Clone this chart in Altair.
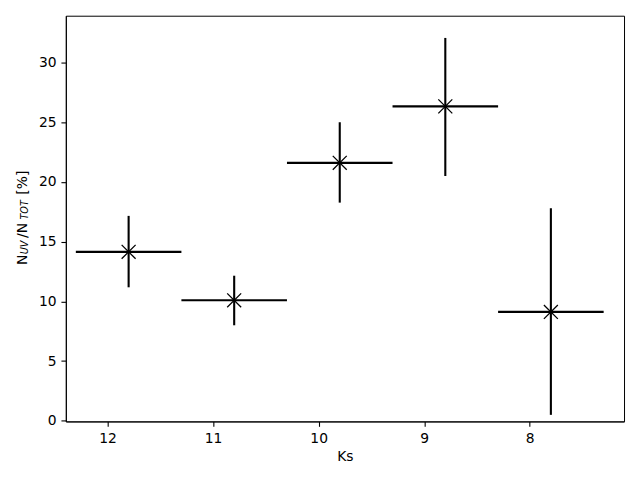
import altair as alt
import pandas as pd

# ---- data ----
ks = [11.8, 10.8, 9.8, 8.8, 7.8]
frac = [14.15, 10.09, 21.6, 26.33, 9.12]
frac_lo = [11.18, 8.0, 18.27, 20.5, 0.5]
frac_hi = [17.16, 12.15, 25.0, 32.06, 17.8]
ks_err = [0.5, 0.5, 0.5, 0.5, 0.5]
x_ticks = [8, 9, 10, 11, 12]
y_ticks = [0, 5, 10, 15, 20, 25, 30]

df = pd.DataFrame({
    "ks": ks,
    "frac": frac,
    "frac_lo": frac_lo,
    "frac_hi": frac_hi,
    "ks_lo": [k - e for k, e in zip(ks, ks_err)],
    "ks_hi": [k + e for k, e in zip(ks, ks_err)],
})

FONT = "DejaVu Sans"
FS = 13.9

xscale = alt.Scale(domain=[7.107, 12.395], reverse=True, nice=False, zero=False)
yscale = alt.Scale(domain=[-0.05, 33.92], nice=False, zero=False)

xaxis = alt.Axis(values=x_ticks, title="Ks", grid=False, format="d",
                 tickSize=4.9, tickWidth=1.1, tickColor="black",
                 domainColor="black", domainWidth=1,
                 labelFont=FONT, labelFontSize=FS, labelColor="black", labelPadding=4.9,
                 titleFont=FONT, titleFontSize=FS, titleFontWeight="normal",
                 titleColor="black", titlePadding=5)
yaxis = alt.Axis(values=y_ticks, title=None, grid=False, format="d",
                 tickSize=4.9, tickWidth=1.1, tickColor="black",
                 domainColor="black", domainWidth=1,
                 labelFont=FONT, labelFontSize=FS, labelColor="black", labelPadding=4.9)

base = alt.Chart(df)

vbars = base.mark_rule(color="black", strokeWidth=2.1).encode(
    x=alt.X("ks:Q", scale=xscale, axis=xaxis),
    y=alt.Y("frac_lo:Q", scale=yscale, axis=yaxis),
    y2="frac_hi:Q",
)
hbars = base.mark_rule(color="black", strokeWidth=2.1).encode(
    x=alt.X("ks_lo:Q", scale=xscale),
    x2="ks_hi:Q",
    y=alt.Y("frac:Q", scale=yscale),
)
points = base.mark_point(
    shape="M-1,-1L1,1M1,-1L-1,1", size=196, color="black",
    strokeWidth=1.3, filled=False, opacity=1,
).encode(
    x=alt.X("ks:Q", scale=xscale),
    y=alt.Y("frac:Q", scale=yscale),
)

# y-axis title with subscripts, composed of rotated text pieces
def piece(text, x, y, size, italic=False):
    kw = dict(text=text, angle=270, align="left", baseline="alphabetic",
              font=FONT, fontSize=size, color="black")
    if italic:
        kw["fontStyle"] = "italic"
    return alt.Chart(alt.Data(values=[{}])).mark_text(**kw).encode(
        x=alt.value(x), y=alt.value(y))

title_parts = [
    piece("N", -39.3, 250, FS),
    piece("UV", -37.5, 239.3, 9.7, True),
    piece("/N", -39.3, 223, FS),
    piece("TOT", -37.5, 204.5, 9.7, True),
    piece("[%]", -39.3, 179.5, FS),
]

chart = alt.layer(vbars, hbars, points, *title_parts).properties(
    width=560, height=407,
    background="white",
    autosize=alt.AutoSizeParams(type="none"),
    padding={"left": 58, "top": 7, "right": 8, "bottom": 50},
).configure_view(stroke="black", strokeWidth=1)

chart.save("out.html", embed_options={"renderer": "svg", "actions": False})
